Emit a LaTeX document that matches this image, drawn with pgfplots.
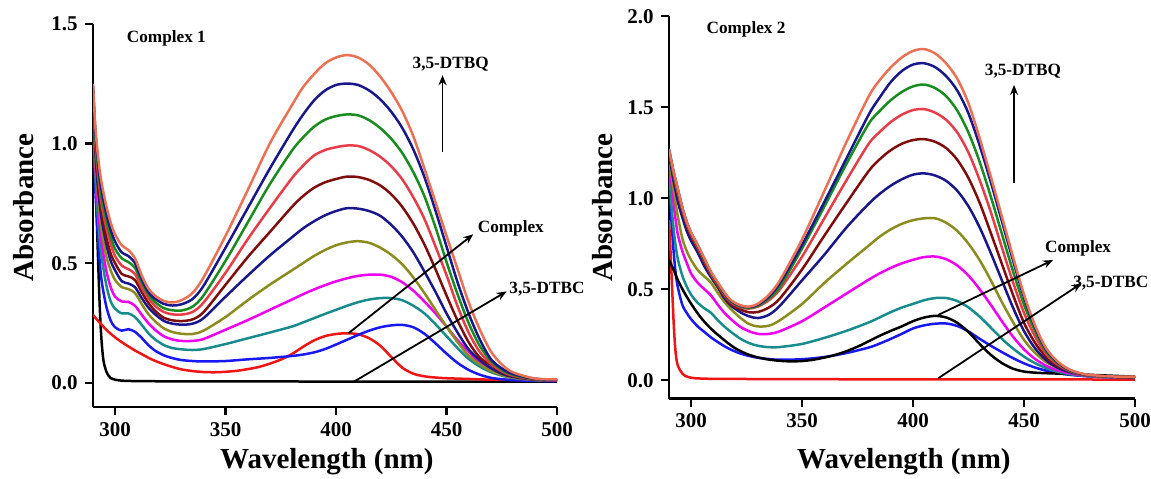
\documentclass[border=0pt]{standalone}
\usepackage{fontspec}
\setmainfont{Liberation Serif}
\usepackage{pgfplots}
\pgfplotsset{compat=1.18}
\usepackage{pgfplotstable}
\usetikzlibrary{arrows.meta}

\definecolor{ccoral}{RGB}{236,112,84}
\definecolor{cnavy}{RGB}{24,24,140}
\definecolor{cgreen}{RGB}{24,140,30}
\definecolor{cred}{RGB}{232,60,72}
\definecolor{cmaroon}{RGB}{128,12,12}
\definecolor{colive}{RGB}{140,140,30}
\definecolor{cmag}{RGB}{240,0,240}
\definecolor{cteal}{RGB}{24,140,140}
\definecolor{cblue}{RGB}{24,24,245}
\definecolor{cpure}{RGB}{240,20,20}

% Complex 1: DTBQ growth curves
\pgfplotstableread{
x   a1    a2    a3    a4    a5    a6    a7    a8    a9    a10
290 1.25  1.24  1.23  1.22  1.21  1.19  1.17  1.15  1.12  1.08
291 1.08  1.06  1.04  1.02  1.00  0.98  0.95  0.92  0.88  0.82
292 0.97  0.95  0.92  0.90  0.87  0.84  0.81  0.77  0.72  0.64
293 0.89  0.86  0.84  0.81  0.78  0.75  0.71  0.66  0.60  0.51
294 0.83  0.80  0.77  0.74  0.71  0.68  0.63  0.58  0.52  0.42
296 0.74  0.71  0.68  0.65  0.61  0.58  0.53  0.47  0.41  0.32
298 0.67  0.64  0.61  0.58  0.54  0.51  0.47  0.40  0.34  0.26
300 0.62  0.59  0.56  0.53  0.50  0.47  0.43  0.36  0.31  0.232
303 0.575 0.545 0.52  0.49  0.455 0.425 0.40  0.34  0.29  0.218
306 0.555 0.53  0.505 0.475 0.445 0.415 0.392 0.338 0.29  0.224
309 0.52  0.50  0.48  0.455 0.43  0.40  0.375 0.322 0.275 0.213
312 0.45  0.435 0.42  0.40  0.38  0.355 0.33  0.285 0.243 0.188
315 0.395 0.38  0.37  0.355 0.335 0.315 0.288 0.250 0.208 0.158
318 0.365 0.352 0.338 0.322 0.302 0.287 0.258 0.222 0.182 0.135
322 0.342 0.330 0.312 0.296 0.272 0.259 0.228 0.195 0.158 0.115
326 0.336 0.323 0.303 0.286 0.261 0.247 0.212 0.181 0.145 0.103
330 0.345 0.328 0.302 0.285 0.258 0.243 0.205 0.175 0.140 0.095
335 0.375 0.350 0.318 0.296 0.265 0.247 0.204 0.175 0.137 0.091
340 0.44  0.405 0.365 0.335 0.295 0.27  0.218 0.183 0.141 0.089
350 0.615 0.565 0.51  0.46  0.41  0.36  0.275 0.222 0.162 0.091
360 0.805 0.73  0.67  0.60  0.525 0.448 0.345 0.262 0.186 0.098
370 1.00  0.895 0.83  0.73  0.63  0.532 0.41  0.305 0.21  0.104
380 1.16  1.05  0.97  0.855 0.735 0.608 0.47  0.348 0.235 0.112
385 1.235 1.12  1.025 0.907 0.78  0.645 0.50  0.37  0.252 0.118
390 1.29  1.18  1.07  0.95  0.815 0.675 0.53  0.39  0.27  0.127
395 1.335 1.222 1.10  0.973 0.838 0.70  0.555 0.408 0.288 0.141
400 1.36  1.245 1.115 0.985 0.852 0.718 0.575 0.424 0.305 0.16
405 1.37  1.251 1.122 0.992 0.862 0.73  0.587 0.437 0.322 0.18
410 1.36  1.245 1.118 0.99  0.86  0.728 0.592 0.447 0.337 0.20
415 1.33  1.222 1.098 0.973 0.848 0.718 0.585 0.452 0.348 0.218
420 1.28  1.185 1.065 0.945 0.825 0.698 0.565 0.452 0.354 0.232
425 1.215 1.133 1.02  0.905 0.788 0.66  0.535 0.443 0.354 0.24
430 1.135 1.065 0.96  0.85  0.735 0.61  0.495 0.42  0.345 0.242
435 1.03  0.975 0.88  0.775 0.665 0.545 0.44  0.385 0.322 0.232
440 0.895 0.86  0.78  0.685 0.578 0.465 0.375 0.34  0.29  0.205
445 0.755 0.72  0.65  0.57  0.475 0.38  0.305 0.29  0.245 0.165
450 0.614 0.57  0.505 0.45  0.365 0.29  0.235 0.235 0.195 0.122
455 0.475 0.42  0.37  0.32  0.26  0.21  0.17  0.178 0.145 0.083
460 0.337 0.29  0.25  0.21  0.17  0.14  0.113 0.13  0.10  0.054
465 0.224 0.182 0.155 0.13  0.106 0.095 0.077 0.083 0.068 0.034
470 0.132 0.10  0.092 0.08  0.075 0.062 0.05  0.053 0.045 0.021
475 0.077 0.06  0.054 0.048 0.045 0.038 0.033 0.034 0.03  0.015
480 0.044 0.037 0.033 0.03  0.028 0.025 0.022 0.022 0.02  0.011
490 0.018 0.017 0.016 0.015 0.014 0.013 0.012 0.012 0.011 0.008
500 0.014 0.013 0.013 0.012 0.012 0.011 0.011 0.01  0.01  0.007
}\Ltab

% Complex 2: DTBQ growth curves
\pgfplotstableread{
x   b1    b2    b3    b4    b5    b6    b7    b8    b9    b10
290 1.27  1.27  1.26  1.26  1.25  1.24  1.24  1.22  1.18  1.12
291 1.21  1.21  1.20  1.20  1.19  1.17  1.14  1.10  0.98  0.90
292 1.15  1.15  1.14  1.14  1.13  1.10  1.05  0.98  0.84  0.72
293 1.10  1.10  1.09  1.08  1.07  1.04  0.97  0.88  0.74  0.59
294 1.05  1.05  1.04  1.03  1.02  0.98  0.90  0.80  0.665 0.51
296 0.95  0.95  0.945 0.94  0.93  0.895 0.78  0.71  0.575 0.415
298 0.87  0.87  0.865 0.86  0.85  0.82  0.71  0.645 0.515 0.37
300 0.81  0.81  0.805 0.80  0.79  0.765 0.66  0.585 0.47  0.335
303 0.742 0.74  0.735 0.73  0.72  0.70  0.605 0.535 0.425 0.295
306 0.668 0.665 0.66  0.655 0.645 0.625 0.57  0.50  0.395 0.265
309 0.595 0.592 0.588 0.583 0.575 0.565 0.535 0.465 0.37  0.235
312 0.538 0.534 0.53  0.525 0.515 0.51  0.48  0.415 0.33  0.21
315 0.483 0.479 0.475 0.47  0.46  0.45  0.43  0.37  0.295 0.187
318 0.44  0.436 0.432 0.428 0.418 0.41  0.39  0.335 0.265 0.168
322 0.413 0.41  0.406 0.402 0.39  0.375 0.345 0.295 0.23  0.148
326 0.405 0.402 0.398 0.394 0.374 0.352 0.31  0.27  0.205 0.134
330 0.42  0.415 0.41  0.405 0.375 0.342 0.296 0.255 0.19  0.124
335 0.47  0.46  0.45  0.44  0.40  0.36  0.30  0.255 0.182 0.117
340 0.55  0.535 0.515 0.50  0.45  0.41  0.33  0.27  0.183 0.113
350 0.775 0.745 0.725 0.68  0.61  0.55  0.42  0.325 0.20  0.116
360 1.04  0.98  0.955 0.89  0.795 0.69  0.535 0.40  0.233 0.128
370 1.31  1.22  1.19  1.10  0.975 0.84  0.64  0.477 0.272 0.15
380 1.56  1.46  1.41  1.30  1.15  0.97  0.74  0.553 0.318 0.18
385 1.65  1.555 1.48  1.365 1.215 1.025 0.79  0.588 0.346 0.202
390 1.72  1.64  1.54  1.42  1.265 1.07  0.83  0.618 0.375 0.228
395 1.775 1.70  1.585 1.46  1.30  1.105 0.86  0.643 0.40  0.256
400 1.81  1.735 1.615 1.485 1.32  1.13  0.88  0.662 0.42  0.285
405 1.82  1.742 1.625 1.49  1.325 1.137 0.89  0.677 0.44  0.302
410 1.795 1.72  1.605 1.47  1.31  1.125 0.89  0.68  0.452 0.311
415 1.74  1.67  1.56  1.43  1.275 1.095 0.865 0.665 0.452 0.312
420 1.655 1.59  1.48  1.36  1.21  1.04  0.82  0.63  0.435 0.298
425 1.52  1.465 1.36  1.25  1.11  0.955 0.75  0.575 0.40  0.268
430 1.33  1.29  1.20  1.10  0.975 0.84  0.66  0.50  0.35  0.228
435 1.12  1.09  1.01  0.925 0.81  0.70  0.55  0.415 0.29  0.19
440 0.90  0.875 0.805 0.73  0.64  0.55  0.43  0.325 0.228 0.155
445 0.68  0.66  0.60  0.54  0.47  0.40  0.32  0.24  0.175 0.122
450 0.47  0.455 0.415 0.37  0.315 0.27  0.222 0.17  0.13  0.093
455 0.30  0.29  0.27  0.24  0.205 0.175 0.15  0.117 0.094 0.07
460 0.175 0.168 0.157 0.143 0.127 0.11  0.10  0.08  0.067 0.053
465 0.105 0.10  0.095 0.088 0.08  0.07  0.068 0.055 0.047 0.04
470 0.062 0.06  0.057 0.054 0.053 0.047 0.047 0.04  0.035 0.031
475 0.04  0.038 0.037 0.035 0.034 0.034 0.033 0.03  0.027 0.025
480 0.029 0.028 0.027 0.026 0.026 0.026 0.025 0.024 0.022 0.021
490 0.021 0.02  0.02  0.019 0.019 0.019 0.018 0.018 0.017 0.016
500 0.02  0.019 0.018 0.017 0.016 0.016 0.015 0.015 0.014 0.013
}\Rtab

\pgfplotsset{
  specstyle/.style={
    scale only axis,
    axis x line=bottom, axis y line=left,
    axis line style={-, line width=1.2pt, black},
    tick align=outside, major tick length=4.2pt,
    tick style={line width=1.1pt, black},
    xmin=290, xmax=500, xtick={300,350,400,450,500},
    ymin=-0.1,
    /pgf/number format/assume math mode=true,
    ticklabel style={font=\fontsize{10.5}{12}\selectfont\bfseries},
    yticklabel style={/pgf/number format/fixed, /pgf/number format/fixed zerofill, /pgf/number format/precision=1},
    label style={font=\fontsize{14.5}{17}\selectfont\bfseries},
    xlabel={Wavelength (nm)}, ylabel={Absorbance},
    clip mode=individual,
    every axis plot/.append style={line width=1.25pt, smooth, tension=0.5, no marks},
  },
}
\tikzset{
  annot/.style={font=\fontsize{8.6}{10}\selectfont\bfseries, inner sep=0pt},
  arr/.style={-{Stealth[length=5pt,width=4pt]}, line width=0.9pt, black},
}

\begin{document}
\begin{tikzpicture}
\useasboundingbox (0,0) rectangle (575.5pt,239pt);

% ---------------- Complex 1 ----------------
\begin{axis}[specstyle,
  at={(46.5pt,35.65pt)}, anchor=south west,
  width=232pt, height=191.35pt,
  ymax=1.5, ytick={0,0.5,1,1.5},
  xlabel style={at={(axis description cs:0.504,-0.1445)}, anchor=center},
  ylabel style={at={(axis description cs:-0.149,0.52)}, anchor=center},
]
\addplot[black] coordinates {(290,1.22) (290.5,1.08) (291,0.92) (291.5,0.76) (292,0.6) (292.5,0.46) (293,0.33) (293.5,0.23) (294,0.16) (294.5,0.11) (295,0.08) (296,0.048) (297,0.03) (298,0.02) (300,0.013) (303,0.009) (310,0.007) (330,0.006) (360,0.006) (400,0.005) (450,0.005) (500,0.005)};
\addplot[cpure] coordinates {(290,0.284) (292,0.262) (294,0.242) (296,0.222) (298,0.205) (300,0.19) (303,0.17) (306,0.152) (309,0.135) (312,0.12) (315,0.105) (318,0.092) (322,0.078) (326,0.066) (330,0.056) (335,0.049) (340,0.045) (345,0.044) (350,0.046) (355,0.05) (360,0.057) (365,0.066) (370,0.08) (375,0.097) (380,0.12) (385,0.15) (390,0.177) (395,0.195) (400,0.204) (405,0.207) (410,0.203) (415,0.186) (420,0.155) (425,0.108) (430,0.063) (435,0.038) (440,0.027) (445,0.022) (450,0.019) (460,0.016) (470,0.013) (480,0.012) (490,0.011) (500,0.01)};
\addplot[cblue]   table[x=x,y=a10]{\Ltab};
\addplot[cteal]   table[x=x,y=a9]{\Ltab};
\addplot[cmag]    table[x=x,y=a8]{\Ltab};
\addplot[colive]  table[x=x,y=a7]{\Ltab};
\addplot[cnavy]   table[x=x,y=a6]{\Ltab};
\addplot[cmaroon] table[x=x,y=a5]{\Ltab};
\addplot[cred]    table[x=x,y=a4]{\Ltab};
\addplot[cgreen]  table[x=x,y=a3]{\Ltab};
\addplot[cnavy]   table[x=x,y=a2]{\Ltab};
\addplot[ccoral]  table[x=x,y=a1]{\Ltab};

\node[annot] at (axis cs:323.2,1.44) {Complex 1};
\draw[arr] (axis cs:448.2,0.963) -- (axis cs:448.2,1.286);
\node[annot] at (axis cs:451.9,1.331) {3,5-DTBQ};
\draw[arr] (axis cs:405.6,0.207) -- (axis cs:462.1,0.621);
\node[annot, anchor=west] at (axis cs:464,0.645) {Complex};
\draw[arr] (axis cs:407.8,0.003) -- (axis cs:477.2,0.382);
\node[annot, anchor=west] at (axis cs:478.3,0.39) {3,5-DTBC};
\end{axis}

% ---------------- Complex 2 ----------------
\begin{axis}[specstyle,
  at={(334.5pt,39.75pt)}, anchor=south west,
  width=233pt, height=191.1pt,
  ymax=2.0, ytick={0,0.5,1,1.5,2},
  xlabel style={at={(axis description cs:0.504,-0.165)}, anchor=center},
  ylabel style={at={(axis description cs:-0.1416,0.50)}, anchor=center},
]
\addplot[cpure] coordinates {(290,0.88) (290.5,0.76) (291,0.62) (291.5,0.48) (292,0.34) (292.5,0.23) (293,0.15) (293.5,0.105) (294,0.08) (295,0.055) (296,0.037) (297.3,0.024) (300,0.014) (302,0.011) (310,0.008) (330,0.007) (360,0.006) (400,0.005) (450,0.005) (500,0.004)};
\addplot[cblue]   table[x=x,y=b10]{\Rtab};
\addplot[black] coordinates {(290,0.66) (292,0.61) (294,0.55) (297,0.48) (300,0.42) (304,0.35) (308,0.295) (312,0.25) (316,0.21) (320,0.175) (325,0.145) (330,0.126) (335,0.114) (340,0.107) (345,0.104) (350,0.106) (355,0.113) (360,0.125) (365,0.14) (370,0.16) (375,0.185) (380,0.215) (385,0.245) (390,0.272) (395,0.297) (400,0.325) (405,0.345) (410,0.354) (415,0.345) (420,0.315) (425,0.265) (430,0.2) (435,0.14) (440,0.095) (445,0.064) (450,0.048) (455,0.042) (460,0.039) (470,0.035) (480,0.03) (490,0.025) (500,0.02)};
\addplot[cteal]   table[x=x,y=b9]{\Rtab};
\addplot[cmag]    table[x=x,y=b8]{\Rtab};
\addplot[colive]  table[x=x,y=b7]{\Rtab};
\addplot[cnavy]   table[x=x,y=b6]{\Rtab};
\addplot[cmaroon] table[x=x,y=b5]{\Rtab};
\addplot[cred]    table[x=x,y=b4]{\Rtab};
\addplot[cgreen]  table[x=x,y=b3]{\Rtab};
\addplot[cnavy]   table[x=x,y=b2]{\Rtab};
\addplot[ccoral]  table[x=x,y=b1]{\Rtab};

\node[annot] at (axis cs:324.7,1.929) {Complex 2};
\draw[arr] (axis cs:445.5,1.082) -- (axis cs:445.5,1.623);
\node[annot] at (axis cs:449.5,1.696) {3,5-DTBQ};
\draw[arr] (axis cs:411.3,0.359) -- (axis cs:463.1,0.661);
\node[annot, anchor=west] at (axis cs:459.3,0.725) {Complex};
\draw[arr] (axis cs:411.3,0.011) -- (axis cs:475.9,0.533);
\node[annot, anchor=west] at (axis cs:472,0.535) {3,5-DTBC};
\end{axis}
\end{tikzpicture}
\end{document}
